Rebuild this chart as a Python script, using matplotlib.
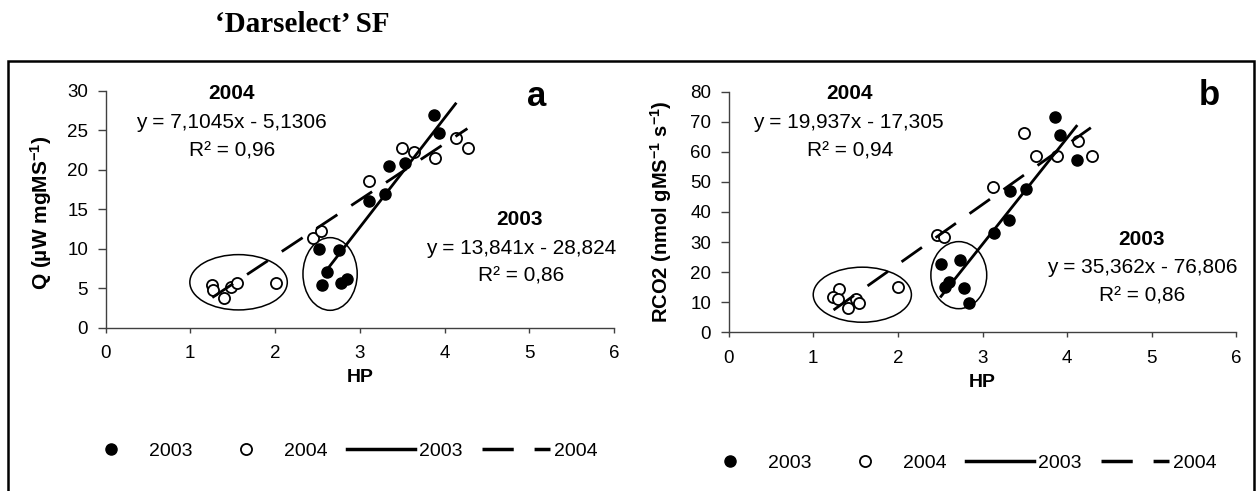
import matplotlib
matplotlib.use("Agg")
import matplotlib.pyplot as plt
from matplotlib.patches import Ellipse, Rectangle
from matplotlib.lines import Line2D

plt.rcParams['font.family'] = ['Liberation Sans', 'DejaVu Sans']
plt.rcParams['mathtext.default'] = 'regular'

# panel a: heat production Q vs HP
hp_a03 = [3.88, 3.94, 3.35, 3.53, 3.30, 3.11, 2.52, 2.75, 2.61, 2.56, 2.78, 2.85]
q_a03 = [26.9, 24.7, 20.5, 20.8, 16.9, 16.1, 10.0, 9.8, 7.1, 5.4, 5.6, 6.2]
hp_a04 = [1.26, 1.27, 1.40, 1.48, 1.55, 2.01, 2.45, 2.54, 3.11, 3.50, 3.64, 3.89, 4.14, 4.28]
q_a04 = [5.4, 4.8, 3.8, 5.2, 5.7, 5.6, 11.4, 12.3, 18.6, 22.7, 22.3, 21.5, 24.0, 22.7]

# panel b: RCO2 vs HP
hp_b03 = [3.86, 3.92, 4.12, 3.51, 3.33, 3.31, 3.13, 2.51, 2.73, 2.60, 2.56, 2.78, 2.84]
r_b03 = [71.7, 65.6, 57.3, 47.6, 46.9, 37.3, 33.0, 22.7, 24.0, 16.8, 15.2, 14.8, 9.6]
hp_b04 = [3.49, 3.63, 3.88, 4.13, 4.29, 3.12, 2.46, 2.55, 2.00, 1.31, 1.23, 1.29, 1.41, 1.50, 1.54]
r_b04 = [66.4, 58.7, 58.7, 63.7, 58.7, 48.4, 32.4, 31.6, 15.0, 14.4, 11.6, 11.1, 8.0, 11.1, 9.9]

# trendlines (slope, intercept) and their x extent
fit_a03 = (13.841, -28.824)
fit_a04 = (7.1045, -5.1306)
fit_b03 = (35.362, -76.806)
fit_b04 = (19.937, -17.305)
span_a03 = [2.60, 4.13]
span_a04 = [1.26, 4.27]
span_b03 = [2.51, 4.11]
span_b04 = [1.24, 4.28]

W, H = 1258, 491
fig = plt.figure(figsize=(W / 100, H / 100), dpi=100)

# outer frame
fig.add_artist(Rectangle((8 / W, -0.1), (1254 - 8) / W, 1.1 - 61 / H, transform=fig.transFigure,
                         fill=False, lw=1.8, ec='black', clip_on=False))
fig.text(302 / W, 1 - 24 / H, '\u2018Darselect\u2019 SF', family='Liberation Serif',
         weight='bold', fontsize=21, ha='center', va='center')

ax_a = fig.add_axes([105.5 / W, 1 - 327.7 / H, 508.5 / W, 237 / H])
ax_b = fig.add_axes([728.6 / W, 1 - 332.3 / H, 507.8 / W, 240.6 / H])

dash = (0, (9, 6))


def panel(ax, x03, y03, x04, y04, f03, s03, f04, s04, ymax, ystep):
    ax.plot(x03, y03, 'o', ms=8, mfc='black', mec='black', zorder=3)
    ax.plot(x04, y04, 'o', ms=8, mfc='white', mec='black', mew=1.3, zorder=3)
    ax.plot(s03, [f03[0] * v + f03[1] for v in s03], color='black', lw=2, zorder=4)
    ax.plot(s04, [f04[0] * v + f04[1] for v in s04], color='black', lw=2, ls=dash, zorder=4)
    ax.set_xlim(0, 6)
    ax.set_ylim(0, ymax)
    ax.set_xticks(range(0, 7))
    ax.set_yticks(range(0, ymax + 1, ystep))
    for s in ['top', 'right']:
        ax.spines[s].set_visible(False)
    for s in ['left', 'bottom']:
        ax.spines[s].set_color('#404040')
        ax.spines[s].set_linewidth(1)
    ax.tick_params(axis='y', direction='out', length=5.5, width=1, color='#404040', pad=7, labelsize=13.5)
    ax.tick_params(axis='x', direction='out', length=3.6, width=1, color='#404040', pad=9, labelsize=13.5)
    ax.set_xlabel('HP', fontsize=14, fontweight='bold', labelpad=5)
    ax.patch.set_visible(False)


panel(ax_a, hp_a03, q_a03, hp_a04, q_a04, fit_a03, span_a03, fit_a04, span_a04, 30, 5)
panel(ax_b, hp_b03, r_b03, hp_b04, r_b04, fit_b03, span_b03, fit_b04, span_b04, 80, 10)

ax_a.text(-0.126, 0.484, 'Q (\u00b5W mgMS$^{-1}$)', transform=ax_a.transAxes, rotation=90,
          ha='center', va='center', fontsize=15, fontweight='bold')
ax_b.text(-0.134, 0.501, 'RCO2 (nmol gMS$^{-1}$ s$^{-1}$)', transform=ax_b.transAxes, rotation=90,
          ha='center', va='center', fontsize=14.5, fontweight='bold')

# circled clusters
for ax, ells in [(ax_a, [(1.57, 5.75, 1.15, 7.0), (2.65, 6.8, 0.64, 9.2)]),
                 (ax_b, [(1.58, 12.5, 1.16, 18.3), (2.72, 19.0, 0.66, 22.3)])]:
    for cx, cy, w, h in ells:
        ax.add_patch(Ellipse((cx, cy), w, h, fill=False, ec='black', lw=1.1, zorder=2))

# equations
ax_a.text(1.49, 29.66, '2004', ha='center', va='center', fontsize=15, fontweight='bold')
ax_a.text(1.49, 25.95, 'y = 7,1045x - 5,1306', ha='center', va='center', fontsize=15)
ax_a.text(1.49, 22.4, 'R\u00b2 = 0,96', ha='center', va='center', fontsize=15)
ax_a.text(4.89, 13.7, '2003', ha='center', va='center', fontsize=15, fontweight='bold')
ax_a.text(4.90, 10.03, 'y = 13,841x - 28,824', ha='center', va='center', fontsize=15)
ax_a.text(4.91, 6.54, 'R\u00b2 = 0,86', ha='center', va='center', fontsize=15)
ax_a.text(5.09, 29.3, 'a', ha='center', va='center', fontsize=25, fontweight='bold')

ax_b.text(1.43, 79.4, '2004', ha='center', va='center', fontsize=15, fontweight='bold', clip_on=False)
ax_b.text(1.42, 69.7, 'y = 19,937x - 17,305', ha='center', va='center', fontsize=15)
ax_b.text(1.43, 60.4, 'R\u00b2 = 0,94', ha='center', va='center', fontsize=15)
ax_b.text(4.88, 31.0, '2003', ha='center', va='center', fontsize=15, fontweight='bold')
ax_b.text(4.89, 21.6, 'y = 35,362x - 76,806', ha='center', va='center', fontsize=15)
ax_b.text(4.89, 12.1, 'R\u00b2 = 0,86', ha='center', va='center', fontsize=15)
ax_b.text(5.68, 78.6, 'b', ha='center', va='center', fontsize=25, fontweight='bold')

# legends
handles = [Line2D([], [], ls='none', marker='o', ms=8, mfc='black', mec='black'),
           Line2D([], [], ls='none', marker='o', ms=8, mfc='white', mec='black', mew=1.3),
           Line2D([], [], color='black', lw=2.5),
           Line2D([], [], color='black', lw=2.5, ls=dash)]
labels = ['2003', '2004', '2003', '2004']
for cx, cy in [(337, 451), (956, 463)]:
    fig.legend(handles, labels, ncol=4, frameon=False, loc='center',
               bbox_to_anchor=(cx / W, 1 - cy / H), fontsize=14, handlelength=3.5,
               handletextpad=0.2, columnspacing=1.0, numpoints=1, borderpad=0)

fig.savefig('out.png', dpi=100)
